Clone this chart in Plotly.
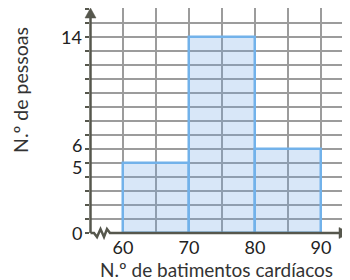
import plotly.graph_objects as go

# Data
bin_centers = [65, 75, 85]
counts = [5, 14, 6]
bin_width = 10
x_tick_vals = [60, 65, 70, 75, 80, 85, 90]
x_tick_text = ["60", "", "70", "", "80", "", "90"]
y_tick_vals = list(range(0, 17))
y_label_vals = [0, 5, 6, 14]
y_label_text = ["0", "5", "6", "14"]
y_label_nudge = {5: -4, 6: 4}  # pixel nudge to keep close labels apart

OFF = 8  # default page body margin
W, H = 350 - OFF, 280 - OFF
ML, MR, MT, MB = 90 - OFF, 0, 8 - OFF, 47
PW, PH = W - ML - MR, H - MT - MB

def px(x):
    return (x - OFF - ML) / PW

def py(y):
    return (H - MB - (y - OFF)) / PH

AXIS = "#56574d"
GRID = "#9c9c9c"
FONT = "Lato, Roboto, sans-serif"

fig = go.Figure()
fig.add_trace(go.Bar(
    x=bin_centers, y=counts, width=bin_width,
    marker=dict(color="rgba(110,165,230,0.27)",
                line=dict(color="#72b2ea", width=2.5)),
    hoverinfo="skip",
))

shapes = []
shapes.append(dict(type="line", xref="paper", yref="paper",
                   x0=px(90.5), x1=px(90.5), y0=py(233), y1=py(14),
                   line=dict(color=AXIS, width=2.5)))
shapes.append(dict(type="path", xref="paper", yref="paper",
                   path=f"M {px(90.5)} {py(8)} L {px(85)} {py(18)} L {px(96)} {py(18)} Z",
                   fillcolor=AXIS, line=dict(color=AXIS, width=0.5)))
pts = [(90.5, 233), (94, 233), (97, 237), (100.5, 229), (104, 237), (107, 229), (110, 233), (342, 233)]
path = "M " + " L ".join(f"{px(a)} {py(b)}" for a, b in pts)
shapes.append(dict(type="path", xref="paper", yref="paper", path=path,
                   line=dict(color=AXIS, width=2.5)))
shapes.append(dict(type="path", xref="paper", yref="paper",
                   path=f"M {px(350)} {py(233)} L {px(339)} {py(227.5)} L {px(339)} {py(238.5)} Z",
                   fillcolor=AXIS, line=dict(color=AXIS, width=0.5)))

annotations = [
    dict(text="N.º de batimentos cardíacos", xref="paper", yref="paper",
         x=px(216), y=py(269), xanchor="center", yanchor="middle",
         showarrow=False, font=dict(family=FONT, size=19, color="#333")),
    dict(text="N.º de pessoas", xref="paper", yref="paper",
         x=px(20), y=py(90), xanchor="center", yanchor="middle", textangle=-90,
         showarrow=False, font=dict(family=FONT, size=19.5, color="#333")),
]
for v, t in zip(y_label_vals, y_label_text):
    annotations.append(dict(text=t, xref="paper", yref="y", x=0, y=v,
                            xanchor="right", yanchor="middle", xshift=-6,
                            yshift=y_label_nudge.get(v, 0), showarrow=False,
                            font=dict(family=FONT, size=18, color="#222")))

fig.update_layout(
    width=W, height=H,
    margin=dict(l=ML, r=MR, t=MT, b=MB, pad=0),
    paper_bgcolor="white", plot_bgcolor="white",
    showlegend=False,
    bargap=0,
    shapes=shapes,
    annotations=annotations,
    xaxis=dict(range=[55, 55 + PW / 6.6], tickvals=x_tick_vals, ticktext=x_tick_text,
               showgrid=True, gridcolor=GRID, gridwidth=1.5,
               zeroline=False, showline=False, ticks="",
               ticklabelstandoff=2,
               tickfont=dict(family=FONT, size=18, color="#222"),
               fixedrange=True),
    yaxis=dict(range=[0, PH / 14], tickvals=y_tick_vals, showticklabels=False,
               showgrid=True, gridcolor=GRID, gridwidth=1.5,
               zeroline=False, showline=False,
               ticks="outside", ticklen=4, tickwidth=1.5, tickcolor=AXIS,
               fixedrange=True),
)

fig.write_html("out.html")
